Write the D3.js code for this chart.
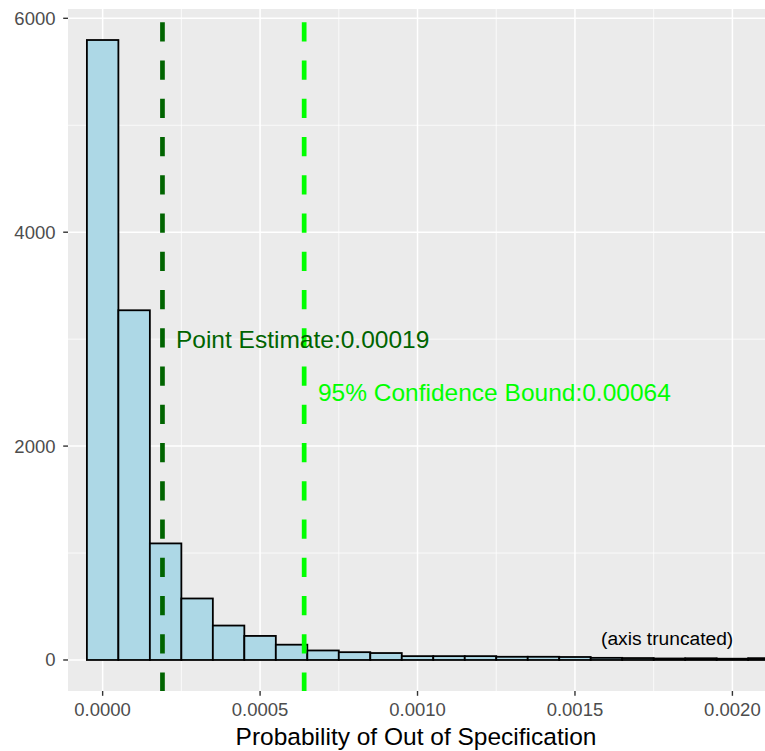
<!DOCTYPE html>
<html>
<head>
<meta charset="utf-8">
<script src="https://cdn.jsdelivr.net/npm/d3@7"></script>
<style>
  html, body { margin: 0; padding: 0; background: #ffffff; }
  svg { display: block; font-family: "Liberation Sans", Arial, sans-serif; }
</style>
</head>
<body>
<svg id="chart" width="765" height="751"></svg>
<script>
// Histogram of simulated out-of-specification probabilities (bin width 0.0001)
const binCenters = [0, 0.0001, 0.0002, 0.0003, 0.0004, 0.0005, 0.0006, 0.0007, 0.0008, 0.0009,
                    0.0010, 0.0011, 0.0012, 0.0013, 0.0014, 0.0015, 0.0016, 0.0017, 0.0018, 0.0019,
                    0.0020, 0.0021, 0.0022];
const binCounts  = [5797, 3270, 1090, 575, 322, 225, 143, 89, 73, 65,
                    36, 36, 36, 30, 30, 28, 20, 18, 14, 16,
                    12, 17, 15];
const binWidth = 0.0001;

const xTicks = [0, 0.0005, 0.0010, 0.0015, 0.0020];
const xTickLabels = ["0.0000", "0.0005", "0.0010", "0.0015", "0.0020"];
const xMinorTicks = [0.00025, 0.00075, 0.00125, 0.00175];
const yTicks = [0, 2000, 4000, 6000];
const yTickLabels = ["0", "2000", "4000", "6000"];
const yMinorTicks = [1000, 3000, 5000];

const pointEstimate = 0.00019;
const confidenceBound = 0.00064;
const refLines = [
  { value: pointEstimate,   color: "#006400", label: "Point Estimate:" + pointEstimate },
  { value: confidenceBound, color: "#00FF00", label: "95% Confidence Bound:" + confidenceBound }
];

const xDomain = [-0.00011, 0.0021035];
const yDomain = [-290, 6087];

const svg = d3.select("#chart");
const panel = { left: 68, top: 9, right: 765, bottom: 691 };

const x = d3.scaleLinear().domain(xDomain).range([panel.left, panel.right]);
const y = d3.scaleLinear().domain(yDomain).range([panel.bottom, panel.top]);

// panel background
svg.append("rect")
  .attr("x", panel.left).attr("y", panel.top)
  .attr("width", panel.right - panel.left).attr("height", panel.bottom - panel.top)
  .attr("fill", "#EBEBEB");

svg.append("clipPath").attr("id", "clip")
  .append("rect")
  .attr("x", panel.left).attr("y", panel.top)
  .attr("width", panel.right - panel.left).attr("height", panel.bottom - panel.top);

const g = svg.append("g").attr("clip-path", "url(#clip)");

// grid lines
g.selectAll(".xminor").data(xMinorTicks).enter().append("line")
  .attr("x1", d => x(d)).attr("x2", d => x(d))
  .attr("y1", panel.top).attr("y2", panel.bottom)
  .attr("stroke", "#ffffff").attr("stroke-width", 0.75);
g.selectAll(".yminor").data(yMinorTicks).enter().append("line")
  .attr("x1", panel.left).attr("x2", panel.right)
  .attr("y1", d => y(d)).attr("y2", d => y(d))
  .attr("stroke", "#ffffff").attr("stroke-width", 0.75);
g.selectAll(".xmajor").data(xTicks).enter().append("line")
  .attr("x1", d => x(d)).attr("x2", d => x(d))
  .attr("y1", panel.top).attr("y2", panel.bottom)
  .attr("stroke", "#ffffff").attr("stroke-width", 1.5);
g.selectAll(".ymajor").data(yTicks).enter().append("line")
  .attr("x1", panel.left).attr("x2", panel.right)
  .attr("y1", d => y(d)).attr("y2", d => y(d))
  .attr("stroke", "#ffffff").attr("stroke-width", 1.5);

// histogram bars
g.selectAll(".bar").data(binCenters).enter().append("rect")
  .attr("x", d => x(d - binWidth / 2))
  .attr("width", d => x(d + binWidth / 2) - x(d - binWidth / 2))
  .attr("y", (d, i) => y(binCounts[i]))
  .attr("height", (d, i) => y(0) - y(binCounts[i]))
  .attr("fill", "#ADD8E6")
  .attr("stroke", "#000000")
  .attr("stroke-width", 1.8);

// dashed reference lines
g.selectAll(".ref").data(refLines).enter().append("line")
  .attr("x1", d => x(d.value)).attr("x2", d => x(d.value))
  .attr("y1", panel.top).attr("y2", panel.bottom)
  .attr("stroke", d => d.color)
  .attr("stroke-width", 4.7)
  .attr("stroke-dasharray", "19.3 18.95")
  .attr("stroke-dashoffset", 24.95);

// annotations
g.append("text")
  .attr("x", x(pointEstimate) + 13.5).attr("y", 347.7)
  .attr("font-size", 24.5).attr("fill", "#006400")
  .text(refLines[0].label);
g.append("text")
  .attr("x", x(confidenceBound) + 13.8).attr("y", 401)
  .attr("font-size", 24.5).attr("fill", "#00FF00")
  .text(refLines[1].label);
g.append("text")
  .attr("x", 601).attr("y", 645)
  .attr("font-size", 19.2).attr("fill", "#000000")
  .text("(axis truncated)");

// axes
const xAxis = svg.append("g");
xAxis.selectAll(".tick").data(xTicks).enter().append("line")
  .attr("x1", d => x(d)).attr("x2", d => x(d))
  .attr("y1", panel.bottom).attr("y2", panel.bottom + 4.8)
  .attr("stroke", "#333333").attr("stroke-width", 1.4);
xAxis.selectAll(".lab").data(xTicks).enter().append("text")
  .attr("x", d => x(d)).attr("y", 716)
  .attr("text-anchor", "middle")
  .attr("font-size", 18.5).attr("fill", "#4D4D4D")
  .text((d, i) => xTickLabels[i]);

const yAxis = svg.append("g");
yAxis.selectAll(".tick").data(yTicks).enter().append("line")
  .attr("x1", panel.left - 4.8).attr("x2", panel.left)
  .attr("y1", d => y(d)).attr("y2", d => y(d))
  .attr("stroke", "#333333").attr("stroke-width", 1.4);
yAxis.selectAll(".lab").data(yTicks).enter().append("text")
  .attr("x", panel.left - 12.5).attr("y", d => y(d))
  .attr("dy", "0.35em")
  .attr("text-anchor", "end")
  .attr("font-size", 18.5).attr("fill", "#4D4D4D")
  .text((d, i) => yTickLabels[i]);

svg.append("text")
  .attr("x", (panel.left + 765) / 2 - 0.5).attr("y", 745)
  .attr("text-anchor", "middle")
  .attr("font-size", 24.5).attr("fill", "#000000")
  .text("Probability of Out of Specification");
</script>
</body>
</html>
